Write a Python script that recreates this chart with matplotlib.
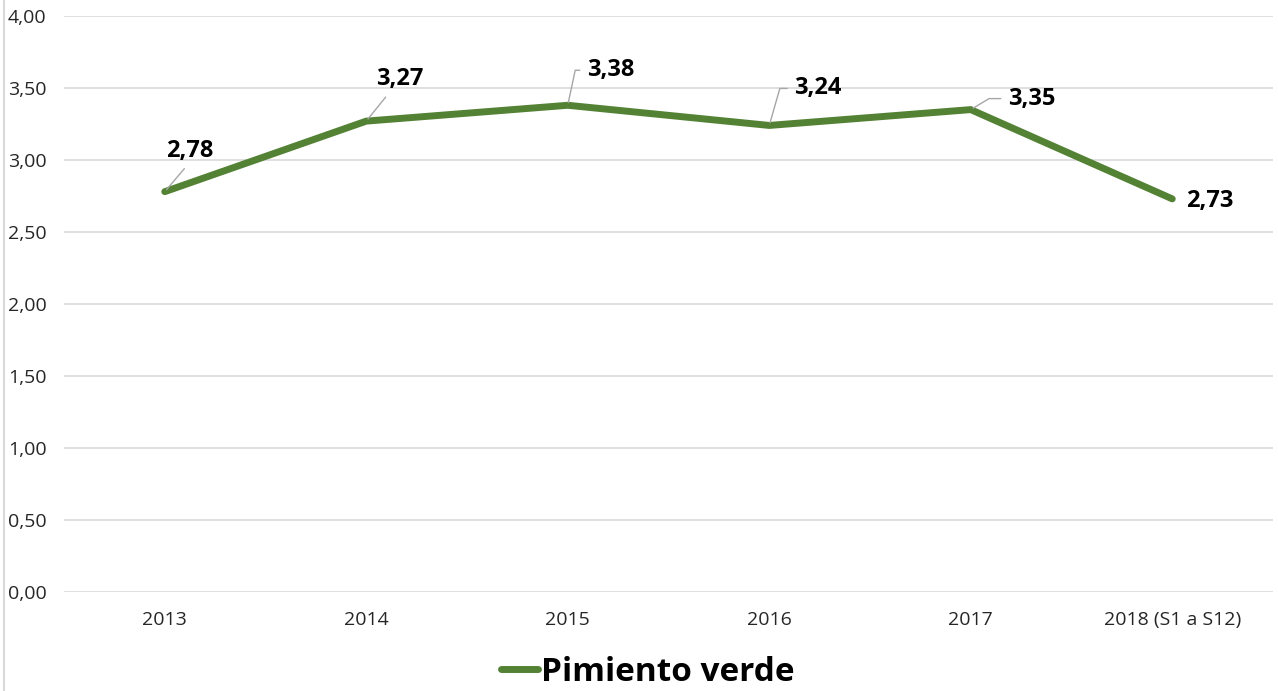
import matplotlib.pyplot as plt
from matplotlib.lines import Line2D
from matplotlib.ticker import FuncFormatter, MultipleLocator

# datos
years = ["2013", "2014", "2015", "2016", "2017", "2018 (S1 a S12)"]
prices = [2.78, 3.27, 3.38, 3.24, 3.35, 2.73]
series_name = "Pimiento verde"

# posicion de cada etiqueta (offset en pixeles), y como va la linea guia
label_offsets = [(1, 41), (10, 42), (19, 35), (25, 37), (37, 11), (14, -2)]
leader_style = [
    ("arc3", (0.5, 0.0)),
    ("arc3", (0.3, 0.0)),
    ("angle,angleA=0,angleB=78,rad=0", (0.0, 0.5)),
    ("angle,angleA=0,angleB=74,rad=0", (0.0, 0.5)),
    ("angle,angleA=0,angleB=31,rad=0", (0.0, 0.5)),
    (None, None),
]

green = "#548235"
grid_c = "#d9d9d9"
plt.rcParams['font.family'] = ['Open Sans', 'DejaVu Sans']

fig = plt.figure(figsize=(12.78, 6.91), dpi=100)
ax = fig.add_axes([64 / 1278, 99 / 691, (1273 - 64) / 1278, (592 - 16) / 691])

x = list(range(len(years)))
ax.plot(x, prices, color=green, lw=5, solid_capstyle="round",
        solid_joinstyle="round", label=series_name, zorder=3)

ax.set_xlim(-0.5, len(years) - 0.5)
ax.set_ylim(0, 4)
ax.yaxis.set_major_locator(MultipleLocator(0.5))
ax.yaxis.set_major_formatter(FuncFormatter(lambda v, p: f"{v:.2f}".replace(".", ",")))
ax.set_xticks(x)
ax.set_xticklabels(years)
ax.grid(axis="y", color=grid_c, lw=1.2)
ax.set_axisbelow(True)
for s in ax.spines.values():
    s.set_visible(False)
ax.tick_params(axis="x", length=0, pad=14, labelsize=14, labelcolor="#262626")
ax.tick_params(axis="y", length=0, labelsize=14, labelcolor="#262626")
for t in ax.get_yticklabels():
    t.set_horizontalalignment("left")
ax.yaxis.set_tick_params(pad=(64 - 8) * 72 / 100)

for xi, v, off, (cs, rp) in zip(x, prices, label_offsets, leader_style):
    txt = f"{v:.2f}".replace(".", ",")
    kw = {}
    if cs is not None:
        kw["arrowprops"] = dict(arrowstyle="-", color="#a6a6a6", lw=1,
                                connectionstyle=cs, relpos=rp,
                                shrinkA=3, shrinkB=2)
    ax.annotate(txt, xy=(xi, v), xytext=off, textcoords="offset pixels",
                ha="left", va="center", fontsize=17, fontweight="bold",
                color="black", zorder=4, **kw)

# borde izquierdo del grafico
fig.add_artist(Line2D([4 / 1278, 4 / 1278], [0, 1], color=grid_c, lw=1.5))

fig.legend(handles=[Line2D([], [], color=green, lw=5, solid_capstyle="round")],
           labels=[series_name], loc="center", bbox_to_anchor=(0.507, 0.027),
           frameon=False, prop={"size": 24, "weight": "bold"},
           handlelength=1.1, handletextpad=0.1, borderpad=0)

fig.savefig("out.png", dpi=100)
